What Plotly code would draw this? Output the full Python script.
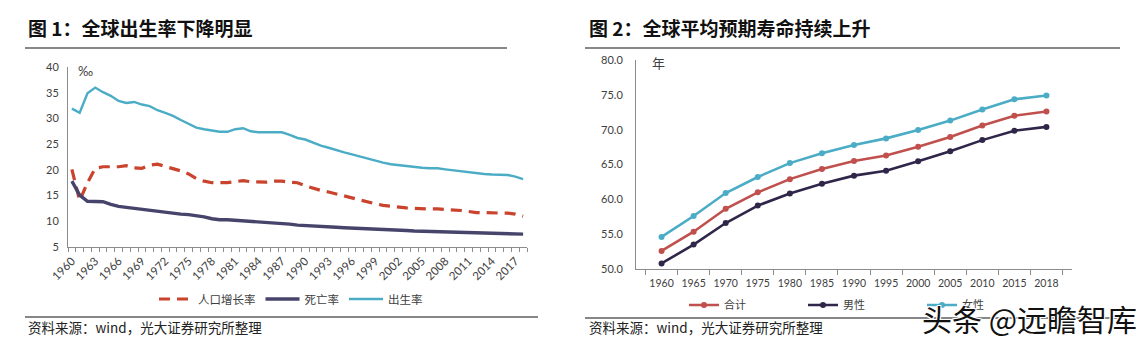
import plotly.graph_objects as go

W, H = 1142, 347

# ---- Figure 1: world birth / death / population growth rates (‰) ----
years = list(range(1960, 2019))
growth_rate = [20.1, 14.0, 17.5, 20.3, 20.6, 20.6, 20.6, 20.8, 20.4, 20.3,
               20.9, 21.1, 20.7, 20.3, 19.8, 19.2, 18.3, 17.8, 17.5, 17.5,
               17.5, 17.7, 17.9, 17.7, 17.6, 17.6, 17.8, 17.8, 17.6, 17.5,
               16.9, 16.4, 16.0, 15.7, 15.3, 15.0, 14.6, 14.2, 13.8, 13.4,
               13.1, 12.9, 12.7, 12.6, 12.5, 12.4, 12.4, 12.4, 12.3, 12.3,
               12.1, 11.9, 11.7, 11.7, 11.6, 11.6, 11.6, 11.4, 11.0]
death_rate = [17.8, 15.1, 13.9, 13.8, 13.8, 13.3, 12.9, 12.7, 12.5, 12.3,
              12.1, 11.9, 11.75, 11.5, 11.4, 11.3, 11.1, 10.85, 10.5, 10.3,
              10.3, 10.2, 10.1, 10.0, 9.9, 9.9, 9.8, 9.6, 9.45, 9.25,
              9.2, 9.05, 9.0, 8.95, 8.85, 8.75, 8.7, 8.65, 8.55, 8.5,
              8.45, 8.4, 8.3, 8.2, 8.1, 8.05, 8.0, 7.95, 7.9, 7.8,
              7.75, 7.7, 7.65, 7.6, 7.55, 7.5, 7.5, 7.5, 7.5]
birth_rate = [31.9, 31.1, 34.9, 36.0, 35.1, 34.4, 33.4, 33.0, 33.2, 32.7,
              32.4, 31.6, 31.1, 30.5, 29.7, 29.0, 28.2, 27.9, 27.6, 27.4,
              27.4, 27.9, 28.1, 27.5, 27.3, 27.3, 27.3, 27.3, 26.8, 26.2,
              25.9, 25.3, 24.7, 24.3, 23.8, 23.4, 23.0, 22.6, 22.2, 21.7,
              21.4, 21.1, 20.9, 20.7, 20.5, 20.4, 20.3, 20.3, 20.1, 19.9,
              19.7, 19.5, 19.4, 19.2, 19.1, 19.0, 19.0, 18.7, 18.2]
fig1_label_years = [1960, 1963, 1966, 1969, 1972, 1975, 1978, 1981, 1984, 1987,
                    1990, 1993, 1996, 1999, 2002, 2005, 2008, 2011, 2014, 2017]

# ---- Figure 2: world life expectancy (years) ----
periods = ["1960", "1965", "1970", "1975", "1980", "1985", "1990",
           "1995", "2000", "2005", "2010", "2015", "2018"]
total_le = [52.6, 55.35, 58.65, 61.0, 62.9, 64.35, 65.5,
            66.3, 67.55, 68.95, 70.6, 72.0, 72.6]
male_le = [50.8, 53.5, 56.6, 59.1, 60.85, 62.25, 63.4,
           64.1, 65.45, 66.9, 68.5, 69.85, 70.4]
female_le = [54.6, 57.6, 60.9, 63.2, 65.2, 66.6, 67.8,
             68.75, 69.95, 71.3, 72.9, 74.35, 74.9]

C_RED = "#C9432D"
C_DEATH = "#47446C"
C_TEAL = "#4BACC6"
C_TOTAL = "#C0504D"
C_MALE = "#30264A"
AXIS_GRAY = "#8C8C8C"
TICK_FONT = dict(family="Lato, Liberation Sans, sans-serif", size=11, color="#404040")
CJK = "Noto Sans CJK SC"


def px_x(p):
    return p / W


def px_y(p):
    return 1 - p / H


fig = go.Figure()

# Figure 1 traces
fig.add_trace(go.Scatter(x=years, y=growth_rate, name="人口增长率", mode="lines",
                         line=dict(color=C_RED, width=3.2, dash="11px,7px"),
                         xaxis="x", yaxis="y", legend="legend"))
fig.add_trace(go.Scatter(x=years, y=death_rate, name="死亡率", mode="lines",
                         line=dict(color=C_DEATH, width=3.4),
                         xaxis="x", yaxis="y", legend="legend"))
fig.add_trace(go.Scatter(x=years, y=birth_rate, name="出生率", mode="lines",
                         line=dict(color=C_TEAL, width=2.4),
                         xaxis="x", yaxis="y", legend="legend"))

# Figure 2 traces
fig.add_trace(go.Scatter(x=periods, y=total_le, name="合计", mode="lines+markers",
                         line=dict(color=C_TOTAL, width=2.6),
                         marker=dict(size=6, color=C_TOTAL),
                         xaxis="x2", yaxis="y2", legend="legend2"))
fig.add_trace(go.Scatter(x=periods, y=male_le, name="男性", mode="lines+markers",
                         line=dict(color=C_MALE, width=2.6),
                         marker=dict(size=6, color=C_MALE),
                         xaxis="x2", yaxis="y2", legend="legend2"))
fig.add_trace(go.Scatter(x=periods, y=female_le, name="女性", mode="lines+markers",
                         line=dict(color=C_TEAL, width=2.6),
                         marker=dict(size=6, color=C_TEAL),
                         xaxis="x2", yaxis="y2", legend="legend2"))

fig.update_layout(
    width=W, height=H,
    margin=dict(l=0, r=0, t=0, b=0, autoexpand=False),
    paper_bgcolor="white", plot_bgcolor="white",
    font=dict(family=CJK, color="#333333"),
    xaxis=dict(
        domain=[px_x(68), px_x(527)], range=[1959.5, 2018.5],
        tickmode="array", tickvals=fig1_label_years,
        ticktext=[str(y) for y in fig1_label_years],
        tickangle=-45, ticks="",
        tickfont=dict(family="Lato, Liberation Sans, sans-serif", size=11.5, color="#404040"),
        ticklabelstandoff=2,
        showline=True, linecolor=AXIS_GRAY, linewidth=1,
        showgrid=False, zeroline=False, anchor="y",
        minor=dict(ticks="outside", tickmode="linear", tick0=1959.5, dtick=1,
                   ticklen=4, tickcolor=AXIS_GRAY, showgrid=False),
    ),
    yaxis=dict(
        domain=[px_y(247), px_y(67)], range=[5, 40], dtick=5,
        tickfont=TICK_FONT, ticks="", ticklabelstandoff=6,
        showline=True, linecolor=AXIS_GRAY, linewidth=1,
        showgrid=False, zeroline=False, anchor="x",
    ),
    xaxis2=dict(
        domain=[px_x(636), px_x(1072)], type="category", tickangle=0,
        tickson="boundaries", ticks="outside", ticklen=5, tickcolor=AXIS_GRAY,
        tickfont=dict(family="Lato, Liberation Sans, sans-serif", size=10.5, color="#404040"),
        ticklabelstandoff=4,
        showline=True, linecolor=AXIS_GRAY, linewidth=1,
        showgrid=False, zeroline=False, anchor="y2",
    ),
    yaxis2=dict(
        domain=[px_y(269), px_y(60)], range=[50, 80], dtick=5, tickformat=".1f",
        tickfont=TICK_FONT, ticks="", ticklabelstandoff=10,
        showline=True, linecolor=AXIS_GRAY, linewidth=1,
        showgrid=False, zeroline=False, anchor="x2",
    ),
    legend=dict(
        orientation="h", x=px_x(154), y=px_y(299), xanchor="left", yanchor="middle",
        font=dict(family=CJK, size=11.5, color="#404040"),
        itemwidth=34, bgcolor="rgba(0,0,0,0)", traceorder="normal",
    ),
    legend2=dict(
        orientation="h", x=px_x(684), y=px_y(305), xanchor="left", yanchor="middle",
        font=dict(family=CJK, size=11, color="#404040"),
        itemwidth=30, entrywidth=74, entrywidthmode="pixels",
        bgcolor="rgba(0,0,0,0)", traceorder="normal",
    ),
    showlegend=True,
)

annotations = [
    dict(text="<b>图 1：全球出生率下降明显</b>", x=px_x(26), y=px_y(28),
         xanchor="left", yanchor="middle",
         font=dict(family=CJK, size=19, color="#111111")),
    dict(text="<b>图 2：全球平均预期寿命持续上升</b>", x=px_x(587), y=px_y(28),
         xanchor="left", yanchor="middle",
         font=dict(family=CJK, size=19, color="#111111")),
    dict(text="‰", x=px_x(76), y=px_y(71), xanchor="left", yanchor="middle",
         font=dict(family="Lato, sans-serif", size=13, color="#404040")),
    dict(text="年", x=px_x(650), y=px_y(62), xanchor="left", yanchor="middle",
         font=dict(family=CJK, size=13, color="#404040")),
    dict(text="资料来源：wind，光大证券研究所整理", x=px_x(26), y=px_y(327),
         xanchor="left", yanchor="middle",
         font=dict(family=CJK, size=13.5, color="#222222")),
    dict(text="资料来源：wind，光大证券研究所整理", x=px_x(587), y=px_y(327),
         xanchor="left", yanchor="middle",
         font=dict(family=CJK, size=13.5, color="#222222")),
    dict(text="头条 @远瞻智库", x=px_x(1139), y=px_y(318),
         xanchor="right", yanchor="middle",
         font=dict(family=CJK, size=30, color="#111111",
                   shadow="1px 1px 0 #fff, -1px -1px 0 #fff, 1px -1px 0 #fff, -1px 1px 0 #fff")),
]
for a in annotations:
    a.update(xref="paper", yref="paper", showarrow=False)
fig.update_layout(annotations=annotations)

# Header and footer rules
rules = [(25, 507, 48), (585, 1120, 48), (25, 538, 317), (585, 1120, 318)]
fig.update_layout(shapes=[
    dict(type="line", xref="paper", yref="paper",
         x0=px_x(a), x1=px_x(b), y0=px_y(yy), y1=px_y(yy),
         line=dict(color="#111111", width=1.2))
    for a, b, yy in rules
])

fig.write_html("out.html")
